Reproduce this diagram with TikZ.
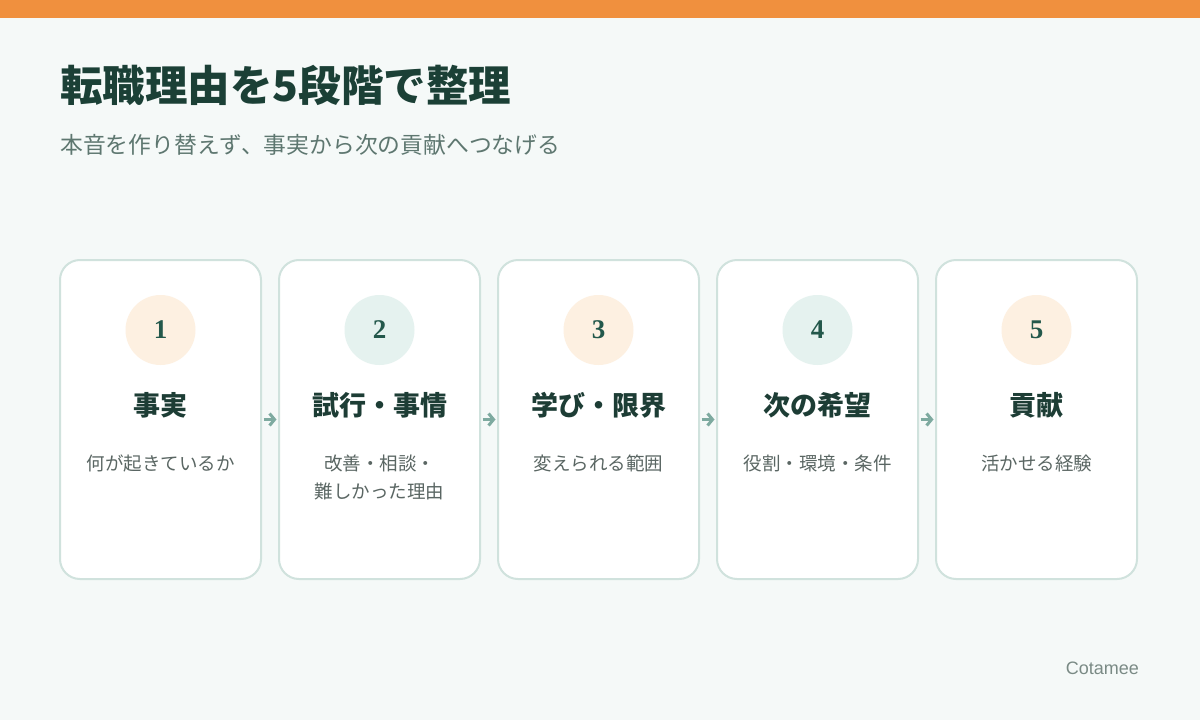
\documentclass[tikz,border=0pt]{standalone}
\usepackage{fontspec}
\usetikzlibrary{arrows.meta}
\newfontfamily\jp{Noto Sans CJK JP}
\newfontfamily\numfont{Liberation Serif}
\newfontfamily\brandfont{Liberation Sans}
\definecolor{barorange}{HTML}{F0903E}
\definecolor{pagebg}{HTML}{F5F9F8}
\definecolor{titlegreen}{HTML}{1B4036}
\definecolor{subgray}{HTML}{5E7770}
\definecolor{cardline}{HTML}{D0E2DD}
\definecolor{peach}{HTML}{FDF0E1}
\definecolor{mint}{HTML}{E5F2EF}
\definecolor{numgreen}{HTML}{23584B}
\definecolor{headgreen}{HTML}{1D3D35}
\definecolor{descgray}{HTML}{5A6663}
\definecolor{flowgreen}{HTML}{7EAAA0}
\definecolor{brandgray}{HTML}{7A8A85}
\begin{document}
\begin{tikzpicture}[x=1pt,y=-1pt,
  card/.style={draw=cardline,line width=2pt,fill=white,rounded corners=20pt,
    minimum width=201pt,minimum height=319pt,inner sep=0pt},
  badge/.style={circle,minimum size=70pt,inner sep=0pt,text=numgreen,
    font=\numfont\bfseries\fontsize{27}{27}\selectfont},
  head/.style={inner sep=0pt,text=headgreen,font=\jp\bfseries\fontsize{27}{30}\selectfont},
  desc/.style={inner sep=0pt,text=descgray,align=center,
    font=\jp\fontsize{18.5}{28}\selectfont},
  flow/.style={draw=flowgreen,line width=3pt,shorten <=1.5pt,shorten >=1.5pt,
    -{Straight Barb[length=5pt,width=12pt]}}]
\useasboundingbox (0,0) rectangle (1200,720);
\fill [pagebg] (0,0) rectangle (1200,720);
\fill [barorange] (0,0) rectangle (1200,18);
% heading
\node [anchor=west,inner sep=0pt,text=titlegreen,font=\jp\bfseries\fontsize{42.5}{46}\selectfont] (title) at (60,85) {転職理由を5段階で整理};
\node [anchor=west,inner sep=0pt,text=subgray,font=\jp\fontsize{22.8}{26}\selectfont] (subtitle) at (60,145) {本音を作り替えず、事実から次の貢献へつなげる};
% cards
\node [card] (card1) at (160.5,419.5) {};
\node [badge,fill=peach] (num1) at (160.5,330) {1};
\node [head] (head1) at (160.5,405) {事実};
\node [desc] (desc1) at (160.5,463) {何が起きているか};
\node [card] (card2) at (379.5,419.5) {};
\node [badge,fill=mint] (num2) at (379.5,330) {2};
\node [head] (head2) at (379.5,405) {試行・事情};
\node [desc] (desc2) at (379.5,477) {改善・相談・\\難しかった理由};
\node [card] (card3) at (598.5,419.5) {};
\node [badge,fill=peach] (num3) at (598.5,330) {3};
\node [head] (head3) at (598.5,405) {学び・限界};
\node [desc] (desc3) at (598.5,463) {変えられる範囲};
\node [card] (card4) at (817.5,419.5) {};
\node [badge,fill=mint] (num4) at (817.5,330) {4};
\node [head] (head4) at (817.5,405) {次の希望};
\node [desc] (desc4) at (817.5,463) {役割・環境・条件};
\node [card] (card5) at (1036.5,419.5) {};
\node [badge,fill=peach] (num5) at (1036.5,330) {5};
\node [head] (head5) at (1036.5,405) {貢献};
\node [desc] (desc5) at (1036.5,463) {活かせる経験};
% arrows between cards
\draw [flow] (card1.east) -- (card2.west);
\draw [flow] (card2.east) -- (card3.west);
\draw [flow] (card3.east) -- (card4.west);
\draw [flow] (card4.east) -- (card5.west);
% brand
\node [anchor=east,inner sep=0pt,text=brandgray,font=\brandfont\fontsize{18}{20}\selectfont] (brand) at (1139,668) {Cotamee};
\end{tikzpicture}
\end{document}
